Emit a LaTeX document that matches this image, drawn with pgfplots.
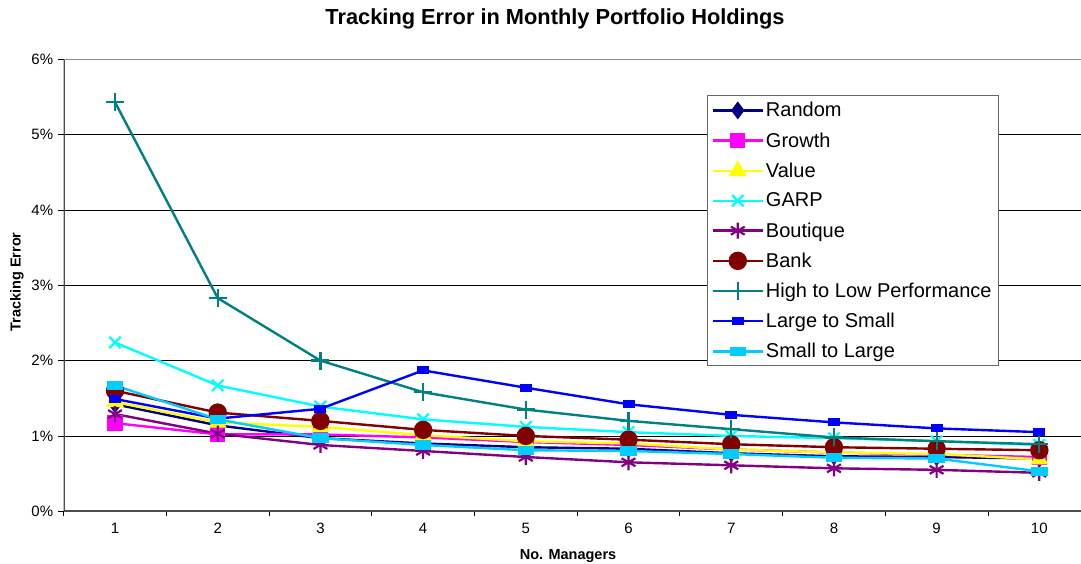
\documentclass[border=0pt]{standalone}
\usepackage{fontspec}
\setmainfont{Liberation Sans}
\usepackage{pgfplots}
\pgfplotsset{compat=1.18}
\definecolor{cRandom}{HTML}{000080}
\definecolor{cGrowth}{HTML}{FF00FF}
\definecolor{cValue}{HTML}{FFFF00}
\definecolor{cGARP}{HTML}{00FFFF}
\definecolor{cBoutique}{HTML}{800080}
\definecolor{cBank}{HTML}{800000}
\definecolor{cHigh}{HTML}{008080}
\definecolor{cLarge}{HTML}{0000FF}
\definecolor{cSmall}{HTML}{00CCFF}
\begin{document}
\begin{tikzpicture}[x=1pt,y=1pt]
\useasboundingbox (0,0) rectangle (1081,564);
\node[font=\bfseries\fontsize{21.8}{24}\selectfont] at (555,545) {Tracking Error in Monthly Portfolio Holdings};
\node[font=\bfseries\fontsize{14.5}{16}\selectfont] at (568,8) {No. Managers};
\node[font=\bfseries\fontsize{14.5}{16}\selectfont, rotate=90] at (17,282) {Tracking Error};
\begin{axis}[
  at={(62,70)}, anchor=south west,
  scale only axis, width=1027pt, height=452pt,
  xmin=0.5, xmax=10.5, ymin=0, ymax=6,
  xtick={1,...,10},
  xticklabels={1,2,3,4,5,6,7,8,9,10},
  minor xtick={0.5,1.5,...,10.5},
  major x tick style={draw=none},
  minor tick length=5pt,
  ytick={0,1,2,3,4,5,6},
  yticklabels={0\%,1\%,2\%,3\%,4\%,5\%,6\%},
  major tick length=6pt,
  tick align=outside,
  xtick pos=bottom, ytick pos=left,
  tick style={black, line width=0.8pt},
  ymajorgrids,
  grid style={black, line width=0.8pt},
  axis line style={draw=none},
  axis x line*=bottom, axis y line*=left,
  ticklabel style={font=\fontsize{15}{17}\selectfont},
  xticklabel style={yshift=-2pt},
  yticklabel style={xshift=-1pt},
  every axis plot/.append style={line width=2.4pt},
  legend cell align=left,
  legend style={at={(0.626,0.920)}, anchor=north west, draw=black!60, line width=1pt,
    font=\fontsize{20}{22}\selectfont, row sep=10.2pt, inner sep=4.5pt,
    /tikz/every even column/.append style={column sep=3pt}},
  legend image code/.code={
    \draw[#1, mark repeat=2, mark phase=2] plot coordinates {(0pt,0pt) (25pt,0pt) (50pt,0pt)};
  },
]
\draw[black!70, line width=2pt] (axis cs:0.5,0) -- (axis cs:0.5,6);
\draw[black!70, line width=2pt] (axis cs:0.5,0) -- (axis cs:10.5,0);
\draw[black!45, line width=1.2pt] (axis cs:0.5,6) -- (axis cs:10.5,6);
\addplot[color=cRandom, mark=diamond*, mark size=7pt, mark options={solid, fill=cRandom}] coordinates {
(1,1.42) (2,1.14) (3,0.97) (4,0.90) (5,0.85) (6,0.83) (7,0.77) (8,0.73) (9,0.72) (10,0.70)};
\addlegendentry{Random}
\addplot[color=cGrowth, mark=square*, mark size=6.5pt, mark options={solid, fill=cGrowth}] coordinates {
(1,1.17) (2,1.02) (3,1.02) (4,0.98) (5,0.92) (6,0.88) (7,0.82) (8,0.78) (9,0.75) (10,0.72)};
\addlegendentry{Growth}
\addplot[color=cValue, mark=triangle*, mark size=8pt, mark options={solid, fill=cValue}] coordinates {
(1,1.45) (2,1.18) (3,1.12) (4,1.01) (5,0.93) (6,0.90) (7,0.82) (8,0.78) (9,0.76) (10,0.69)};
\addlegendentry{Value}
\addplot[color=cGARP, mark=x, mark size=8pt, mark options={solid, line width=2.2pt}] coordinates {
(1,2.24) (2,1.67) (3,1.39) (4,1.22) (5,1.12) (6,1.05) (7,1.00) (8,0.97) (9,0.93) (10,0.88)};
\addlegendentry{GARP}
\addplot[color=cBoutique, mark=asterisk, mark size=8pt, mark options={solid, line width=2.2pt}] coordinates {
(1,1.29) (2,1.03) (3,0.88) (4,0.80) (5,0.72) (6,0.65) (7,0.61) (8,0.57) (9,0.55) (10,0.51)};
\addlegendentry{Boutique}
\addplot[color=cBank, mark=*, mark size=8pt, mark options={solid, fill=cBank}] coordinates {
(1,1.60) (2,1.31) (3,1.20) (4,1.08) (5,1.00) (6,0.95) (7,0.89) (8,0.85) (9,0.83) (10,0.81)};
\addlegendentry{Bank}
\addplot[color=cHigh, mark=+, mark size=9pt, mark options={solid, line width=2.2pt}] coordinates {
(1,5.43) (2,2.83) (3,2.00) (4,1.58) (5,1.35) (6,1.20) (7,1.09) (8,0.98) (9,0.93) (10,0.89)};
\addlegendentry{High to Low Performance}
\addplot[color=cLarge, mark=square*, mark size=3pt, mark options={solid, fill=cLarge, xscale=1.6, yscale=0.9}] coordinates {
(1,1.49) (2,1.23) (3,1.36) (4,1.87) (5,1.64) (6,1.42) (7,1.28) (8,1.18) (9,1.10) (10,1.05)};
\addlegendentry{Large to Small}
\addplot[color=cSmall, mark=square*, mark size=3.5pt, mark options={solid, fill=cSmall, xscale=2, yscale=1}] coordinates {
(1,1.67) (2,1.22) (3,0.97) (4,0.88) (5,0.81) (6,0.80) (7,0.76) (8,0.71) (9,0.70) (10,0.53)};
\addlegendentry{Small to Large}
\end{axis}
\end{tikzpicture}
\end{document}
